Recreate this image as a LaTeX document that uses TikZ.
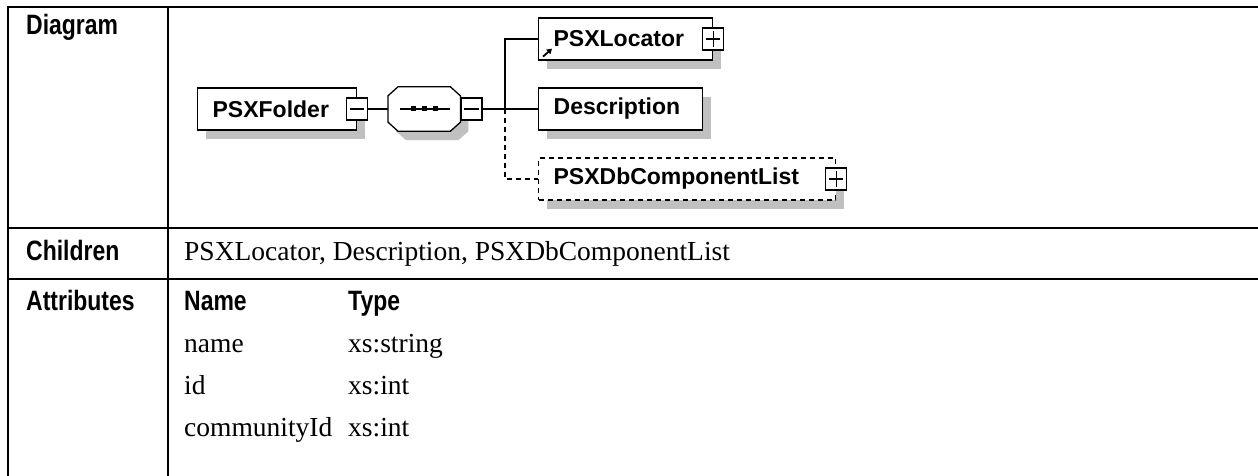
\documentclass[tikz,border=0pt]{standalone}
\usepackage{fontspec}
\setmainfont{Liberation Serif}
\setsansfont{Liberation Sans}
\newfontfamily\narrowsans{Liberation Sans}[FakeStretch=0.82]
\usepackage{tikz}
\usetikzlibrary{shadows, arrows.meta}
\definecolor{shadowgrey}{RGB}{192,192,192}
\tikzset{
    elembox/.style={draw=black, fill=white, line width=1.3pt, minimum height=42pt, inner xsep=15pt, inner ysep=0pt, align=left, anchor=west, font=\sffamily\bfseries\fontsize{23}{25}\selectfont, drop shadow={shadow xshift=8pt, shadow yshift=-9pt, fill=shadowgrey, opacity=1}},
    seqbox/.style={minimum width=72pt, minimum height=44pt, inner sep=0pt, anchor=west},
    octo/.style={draw=black, fill=white, line width=1.3pt, drop shadow={shadow xshift=8pt, shadow yshift=-9pt, fill=shadowgrey, opacity=1}},
    expander/.style={draw=black, fill=white, line width=1.2pt, minimum width=21pt, minimum height=22pt, inner sep=0pt},
    conn/.style={line width=1.3pt},
    optdash/.style={dash pattern=on 5pt off 4pt},
    tablerule/.style={line width=2.4pt},
    rowhead/.style={anchor=base west, inner sep=0pt, font=\narrowsans\bfseries\fontsize{28}{30}\selectfont},
    celltext/.style={anchor=base west, inner sep=0pt, font=\fontsize{27.5}{30}\selectfont}
}
\begin{document}
\begin{tikzpicture}[x=1pt, y=-1pt]
    \fill[white] (0,0) rectangle (1258,476);
    \useasboundingbox (0,0) rectangle (1258,476);

    \draw[tablerule] (8,7) -- (1258,7);
    \draw[tablerule] (8,228) -- (1258,228);
    \draw[tablerule] (8,279) -- (1258,279);
    \draw[tablerule] (8,6) -- (8,476);
    \draw[tablerule] (168,6) -- (168,476);

    \node[rowhead] (hdiagram) at (26,35) {Diagram};
    \node[rowhead] (hchildren) at (26,260) {Children};
    \node[rowhead] (hattributes) at (26,310) {Attributes};

    \node[elembox, text width=129pt] (folder) at (197,109) {PSXFolder};
    \node[expander] (folder-x) at (folder.east) {};
    \node[seqbox] (seq) at (388,109) {};
    \draw[octo] ([xshift=10pt]seq.north west) -- ([xshift=-10pt]seq.north east) -- ([yshift=-9pt]seq.north east)
        -- ([yshift=9pt]seq.south east) -- ([xshift=-10pt]seq.south east) -- ([xshift=10pt]seq.south west)
        -- ([yshift=9pt]seq.south west) -- ([yshift=-9pt]seq.north west) -- cycle;
    \node[expander, anchor=west] (seq-x) at (seq.east) {};
    \node[elembox, text width=144pt] (locator) at (538,39) {PSXLocator};
    \node[expander] (locator-x) at (locator.east) {};
    \node[elembox, text width=134pt] (descr) at (538,109) {Description};
    \node[elembox, optdash, text width=267pt] (dblist) at (538,179) {PSXDbComponentList};
    \node[expander] (dblist-x) at (dblist.east) {};

    \foreach \n in {folder-x, seq-x, locator-x, dblist-x}
        \draw[line width=1.2pt] ([xshift=4pt]\n.west) -- ([xshift=-4pt]\n.east);
    \foreach \n in {locator-x, dblist-x}
        \draw[line width=1.2pt] ([yshift=4pt]\n.south) -- ([yshift=-4pt]\n.north);

    \draw[line width=1.2pt] ([xshift=12pt]seq.west) -- ([xshift=-10pt]seq.east);
    \foreach \dx in {25,36,47}
        \fill ([xshift=\dx pt]seq.west) ++(-2.5,-2.5) rectangle ++(5,5);

    \draw[-{Triangle[length=5pt,width=6pt]}, line width=1.8pt] ([shift={(5pt,4pt)}]locator.south west) -- ++(9,-8);

    \coordinate (bus) at (505,109);
    \coordinate (bus-top) at (505,39);
    \coordinate (bus-bot) at (505,179);
    \draw[conn] (folder-x) -- (seq);
    \draw[conn] (seq-x) -- (descr);
    \draw[conn] (bus) -- (bus-top) -- (locator);
    \draw[conn, optdash] (bus) -- (bus-bot) -- (dblist);

    \node[celltext] (children) at (184,260) {PSXLocator, Description, PSXDbComponentList};
    \node[rowhead] (colname) at (184,310) {Name};
    \node[rowhead] (coltype) at (348,310) {Type};
    \foreach \aname/\atype/\yy in {name/xs:string/352, id/xs:int/394, communityId/xs:int/436} {
        \node[celltext] (n-\aname) at (184,\yy) {\aname};
        \node[celltext] (t-\aname) at (348,\yy) {\atype};
    }
\end{tikzpicture}
\end{document}
